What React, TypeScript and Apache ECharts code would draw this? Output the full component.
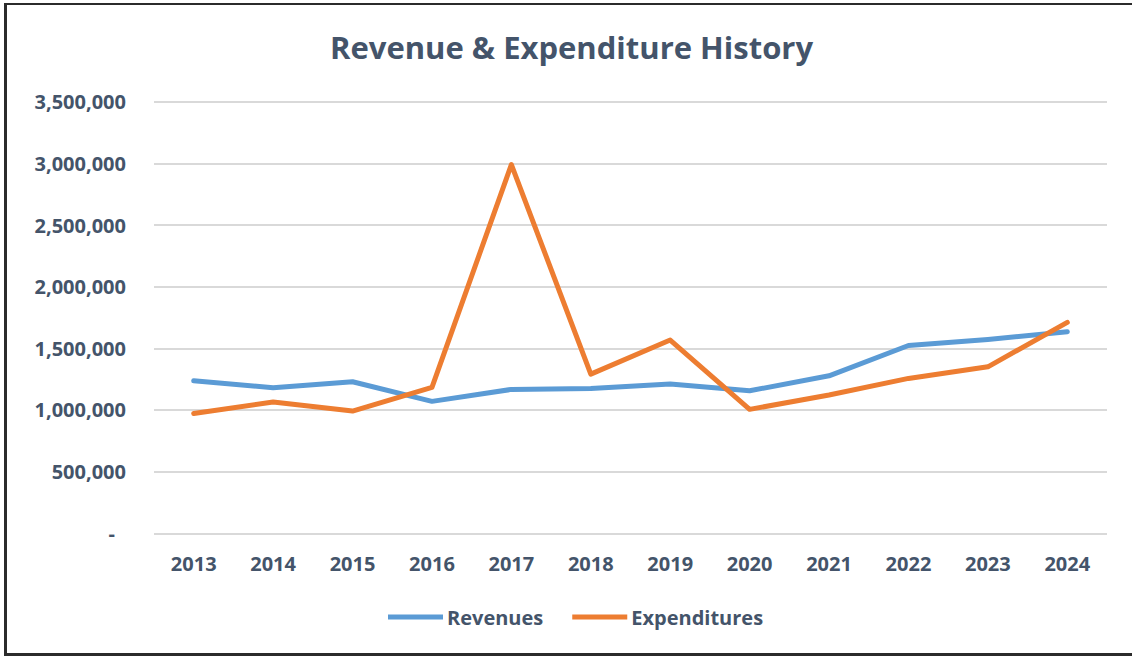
import React, { useEffect, useRef } from "react";
import * as echarts from "echarts";

const years = ["2013", "2014", "2015", "2016", "2017", "2018", "2019", "2020", "2021", "2022", "2023", "2024"];
const revenues = [1237000, 1180000, 1229000, 1070000, 1167000, 1175000, 1210000, 1156000, 1277000, 1523000, 1572000, 1634000];
const expenditures = [972000, 1064000, 991000, 1183000, 2990000, 1291000, 1567000, 1005000, 1121000, 1256000, 1350000, 1710000];

const FONT = "'Open Sans', 'Noto Sans', sans-serif";
const TEXT = "#44546A";

export default function App() {
  const ref = useRef<HTMLDivElement>(null);
  useEffect(() => {
    document.body.style.margin = "0";
    const chart = echarts.init(ref.current!, undefined, { renderer: "svg" });
    chart.setOption({
      animation: false,
      backgroundColor: "#ffffff",
      title: {
        text: "Revenue & Expenditure History",
        left: 325,
        top: 26,
        textStyle: { fontFamily: FONT, fontSize: 31, fontWeight: "bold", color: TEXT },
      },
      grid: { left: 154, right: 25, top: 101.7, bottom: 122.7, containLabel: false },
      legend: {
        bottom: 24,
        left: 383,
        icon: "rect",
        itemWidth: 55,
        itemHeight: 5,
        itemGap: 29,
        textStyle: { fontFamily: FONT, fontSize: 20, fontWeight: "bold", color: TEXT, padding: [0, 0, 0, -1] },
        data: ["Revenues", "Expenditures"],
      },
      xAxis: {
        type: "category",
        data: years,
        boundaryGap: true,
        axisLine: { show: false },
        axisTick: { show: false },
        axisLabel: { margin: 20, fontFamily: FONT, fontSize: 20, fontWeight: "bold", color: TEXT },
      },
      yAxis: {
        type: "value",
        min: 0,
        max: 3500000,
        interval: 500000,
        axisLine: { show: false },
        axisTick: { show: false },
        splitLine: { lineStyle: { color: "#D9D9D9", width: 2 } },
        axisLabel: {
          margin: 28,
          fontFamily: FONT,
          fontSize: 20,
          fontWeight: "bold",
          color: TEXT,
          formatter: (v: number) => (v === 0 ? "{d|-}" : v.toLocaleString("en-US")),
          rich: { d: { fontFamily: FONT, fontSize: 20, fontWeight: "bold", color: TEXT, padding: [0, 11, 0, 0] } },
        },
      },
      series: [
        {
          name: "Revenues",
          type: "line",
          data: revenues,
          symbol: "none",
          color: "#5B9BD5",
          lineStyle: { width: 5, color: "#5B9BD5", cap: "round", join: "round" },
        },
        {
          name: "Expenditures",
          type: "line",
          data: expenditures,
          symbol: "none",
          color: "#ED7D31",
          lineStyle: { width: 5, color: "#ED7D31", cap: "round", join: "round" },
        },
      ],
      graphic: [
        { type: "rect", shape: { x: 4, y: 3, width: 1128, height: 2 }, style: { fill: "#2b2b2b" } },
        { type: "rect", shape: { x: 4, y: 653, width: 1128, height: 3 }, style: { fill: "#2b2b2b" } },
        { type: "rect", shape: { x: 4, y: 3, width: 3, height: 653 }, style: { fill: "#2b2b2b" } },
      ],
    });
    return () => chart.dispose();
  }, []);
  return <div ref={ref} style={{ width: 1132, height: 656 }} />;
}
